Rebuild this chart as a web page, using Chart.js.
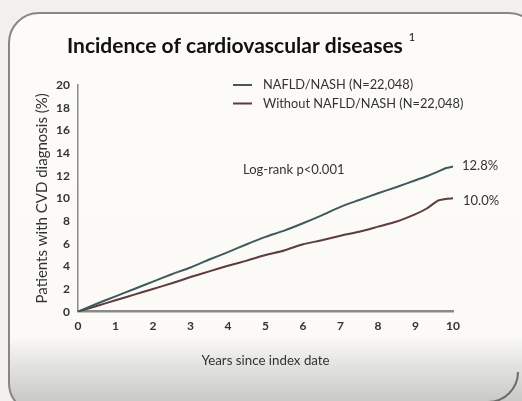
<!DOCTYPE html>
<html>
<head>
<meta charset="utf-8">
<script src="https://cdn.jsdelivr.net/npm/chart.js@4"></script>
<style>
  html, body { margin: 0; padding: 0; background: #f1f0ee; }
  #wrap { width: 522px; height: 401px; position: relative; }
</style>
</head>
<body>
<div id="wrap"><canvas id="cvdChart" width="522" height="401"></canvas></div>
<script>
// years since index date
const years = [0, 0.5, 1, 1.5, 2, 2.5, 3, 3.5, 4, 4.5, 5, 5.5, 6, 6.5, 7, 7.5, 8, 8.5, 9, 9.3, 9.6, 9.8, 10];
// cumulative incidence (%)
const nafld = [0, 0.7, 1.35, 2.0, 2.65, 3.3, 3.9, 4.6, 5.25, 5.95, 6.6, 7.15, 7.8, 8.5, 9.25, 9.85, 10.45, 11.0, 11.6, 11.95, 12.35, 12.65, 12.8];
const without = [0, 0.5, 1.0, 1.5, 2.0, 2.5, 3.05, 3.55, 4.05, 4.5, 5.0, 5.4, 5.95, 6.3, 6.7, 7.05, 7.5, 7.95, 8.6, 9.1, 9.8, 9.95, 10.0];
const seriesLabels = ['NAFLD/NASH (N=22,048)', 'Without NAFLD/NASH (N=22,048)'];
const endLabels = ['12.8%', '10.0%'];
const xTicks = [0, 1, 2, 3, 4, 5, 6, 7, 8, 9, 10];
const yTicks = [0, 2, 4, 6, 8, 10, 12, 14, 16, 18, 20];

const colNafld = '#3f5a5e';
const colWithout = '#5e3b3d';
const textCol = '#333';

const toPoints = (ys) => years.map((x, i) => ({x: x, y: ys[i]}));

// slide background: rounded box, photo-ish shading at the bottom
const slideBg = {
    id: 'slideBg',
    beforeDraw(chart) {
        const ctx = chart.ctx;
        ctx.save();
        ctx.fillStyle = '#f1f0ee';
        ctx.fillRect(0, 0, chart.width, chart.height);
        const g = ctx.createLinearGradient(0, 0, 0, chart.height);
        g.addColorStop(0, '#fcfbf8');
        g.addColorStop(0.84, '#fbfaf7');
        g.addColorStop(0.9, '#e6e6e4');
        g.addColorStop(1, '#c9c9c7');
        ctx.beginPath();
        ctx.roundRect(9, 13, 530, 400, 30);
        ctx.fillStyle = g;
        ctx.fill();
        ctx.lineWidth = 2;
        ctx.strokeStyle = '#8c857e';
        ctx.stroke();
        // bottom-right corner of the slide box
        ctx.beginPath();
        ctx.arc(488, 372, 30, 0, Math.PI / 2);
        ctx.strokeStyle = '#6e6a66';
        ctx.stroke();
        ctx.restore();
    }
};

// title, legend and annotations
const annotations = {
    id: 'annotations',
    afterDraw(chart) {
        const ctx = chart.ctx;
        const x = chart.scales.x, y = chart.scales.y;
        ctx.save();
        ctx.fillStyle = '#111';
        ctx.textBaseline = 'alphabetic';
        ctx.font = 'bold 21px Lato';
        const title = 'Incidence of cardiovascular diseases';
        ctx.fillText(title, 67, 53);
        const tw = ctx.measureText(title).width;
        ctx.font = '11px Lato';
        ctx.fillText('1', 67 + tw + 6, 41);

        // legend
        ctx.font = '12.8px Lato';
        ctx.textBaseline = 'middle';
        const cols = [colNafld, colWithout];
        seriesLabels.forEach((lab, i) => {
            const ly = 85 + i * 18.5;
            ctx.strokeStyle = cols[i];
            ctx.lineWidth = 2;
            ctx.beginPath();
            ctx.moveTo(233, ly);
            ctx.lineTo(252, ly);
            ctx.stroke();
            ctx.fillStyle = textCol;
            ctx.fillText(lab, 263, ly);
        });

        ctx.fillStyle = textCol;
        ctx.font = '13px Lato';
        ctx.fillText('Log-rank p<0.001', 243, 170);

        // end-of-curve values
        const lastX = x.getPixelForValue(years[years.length - 1]);
        ctx.fillText(endLabels[0], lastX + 9, y.getPixelForValue(nafld[nafld.length - 1]) - 1);
        ctx.fillText(endLabels[1], lastX + 10, y.getPixelForValue(without[without.length - 1]) + 2);
        ctx.restore();
    }
};

new Chart(document.getElementById('cvdChart'), {
    type: 'line',
    data: {
        datasets: [{
            label: seriesLabels[0],
            data: toPoints(nafld),
            borderColor: colNafld,
            borderWidth: 2,
            pointRadius: 0,
            tension: 0.2,
            fill: false
        }, {
            label: seriesLabels[1],
            data: toPoints(without),
            borderColor: colWithout,
            borderWidth: 2,
            pointRadius: 0,
            tension: 0.2,
            fill: false
        }]
    },
    options: {
        responsive: false,
        animation: false,
        layout: { padding: { left: 0, top: 85, right: 69, bottom: 32 } },
        plugins: {
            legend: { display: false },
            tooltip: { enabled: false }
        },
        scales: {
            x: {
                type: 'linear',
                min: 0,
                max: 10,
                afterBuildTicks: (s) => { s.ticks = xTicks.map(v => ({value: v})); },
                grid: { display: false, drawTicks: false },
                border: { display: true, color: '#8a8a8a', width: 2.5 },
                ticks: { color: textCol, font: { family: 'Lato', size: 12, weight: 'bold' }, padding: 7 },
                title: {
                    display: true,
                    text: 'Years since index date',
                    color: textCol,
                    font: { family: 'Lato', size: 13.3 },
                    padding: { top: 13, bottom: 0 }
                }
            },
            y: {
                min: 0,
                max: 20,
                afterBuildTicks: (s) => { s.ticks = yTicks.map(v => ({value: v})); },
                afterFit: (s) => { s.width = 78; },
                grid: { display: false, drawTicks: false },
                border: { display: true, color: '#8a8a8a', width: 1.5 },
                ticks: { color: textCol, font: { family: 'Lato', size: 12, weight: 'bold' }, padding: 8 },
                title: {
                    display: true,
                    text: 'Patients with CVD diagnosis (%)',
                    color: textCol,
                    font: { family: 'Lato', size: 15 },
                    padding: { top: 33, bottom: 0 }
                }
            }
        }
    },
    plugins: [slideBg, annotations]
});
</script>
</body>
</html>
